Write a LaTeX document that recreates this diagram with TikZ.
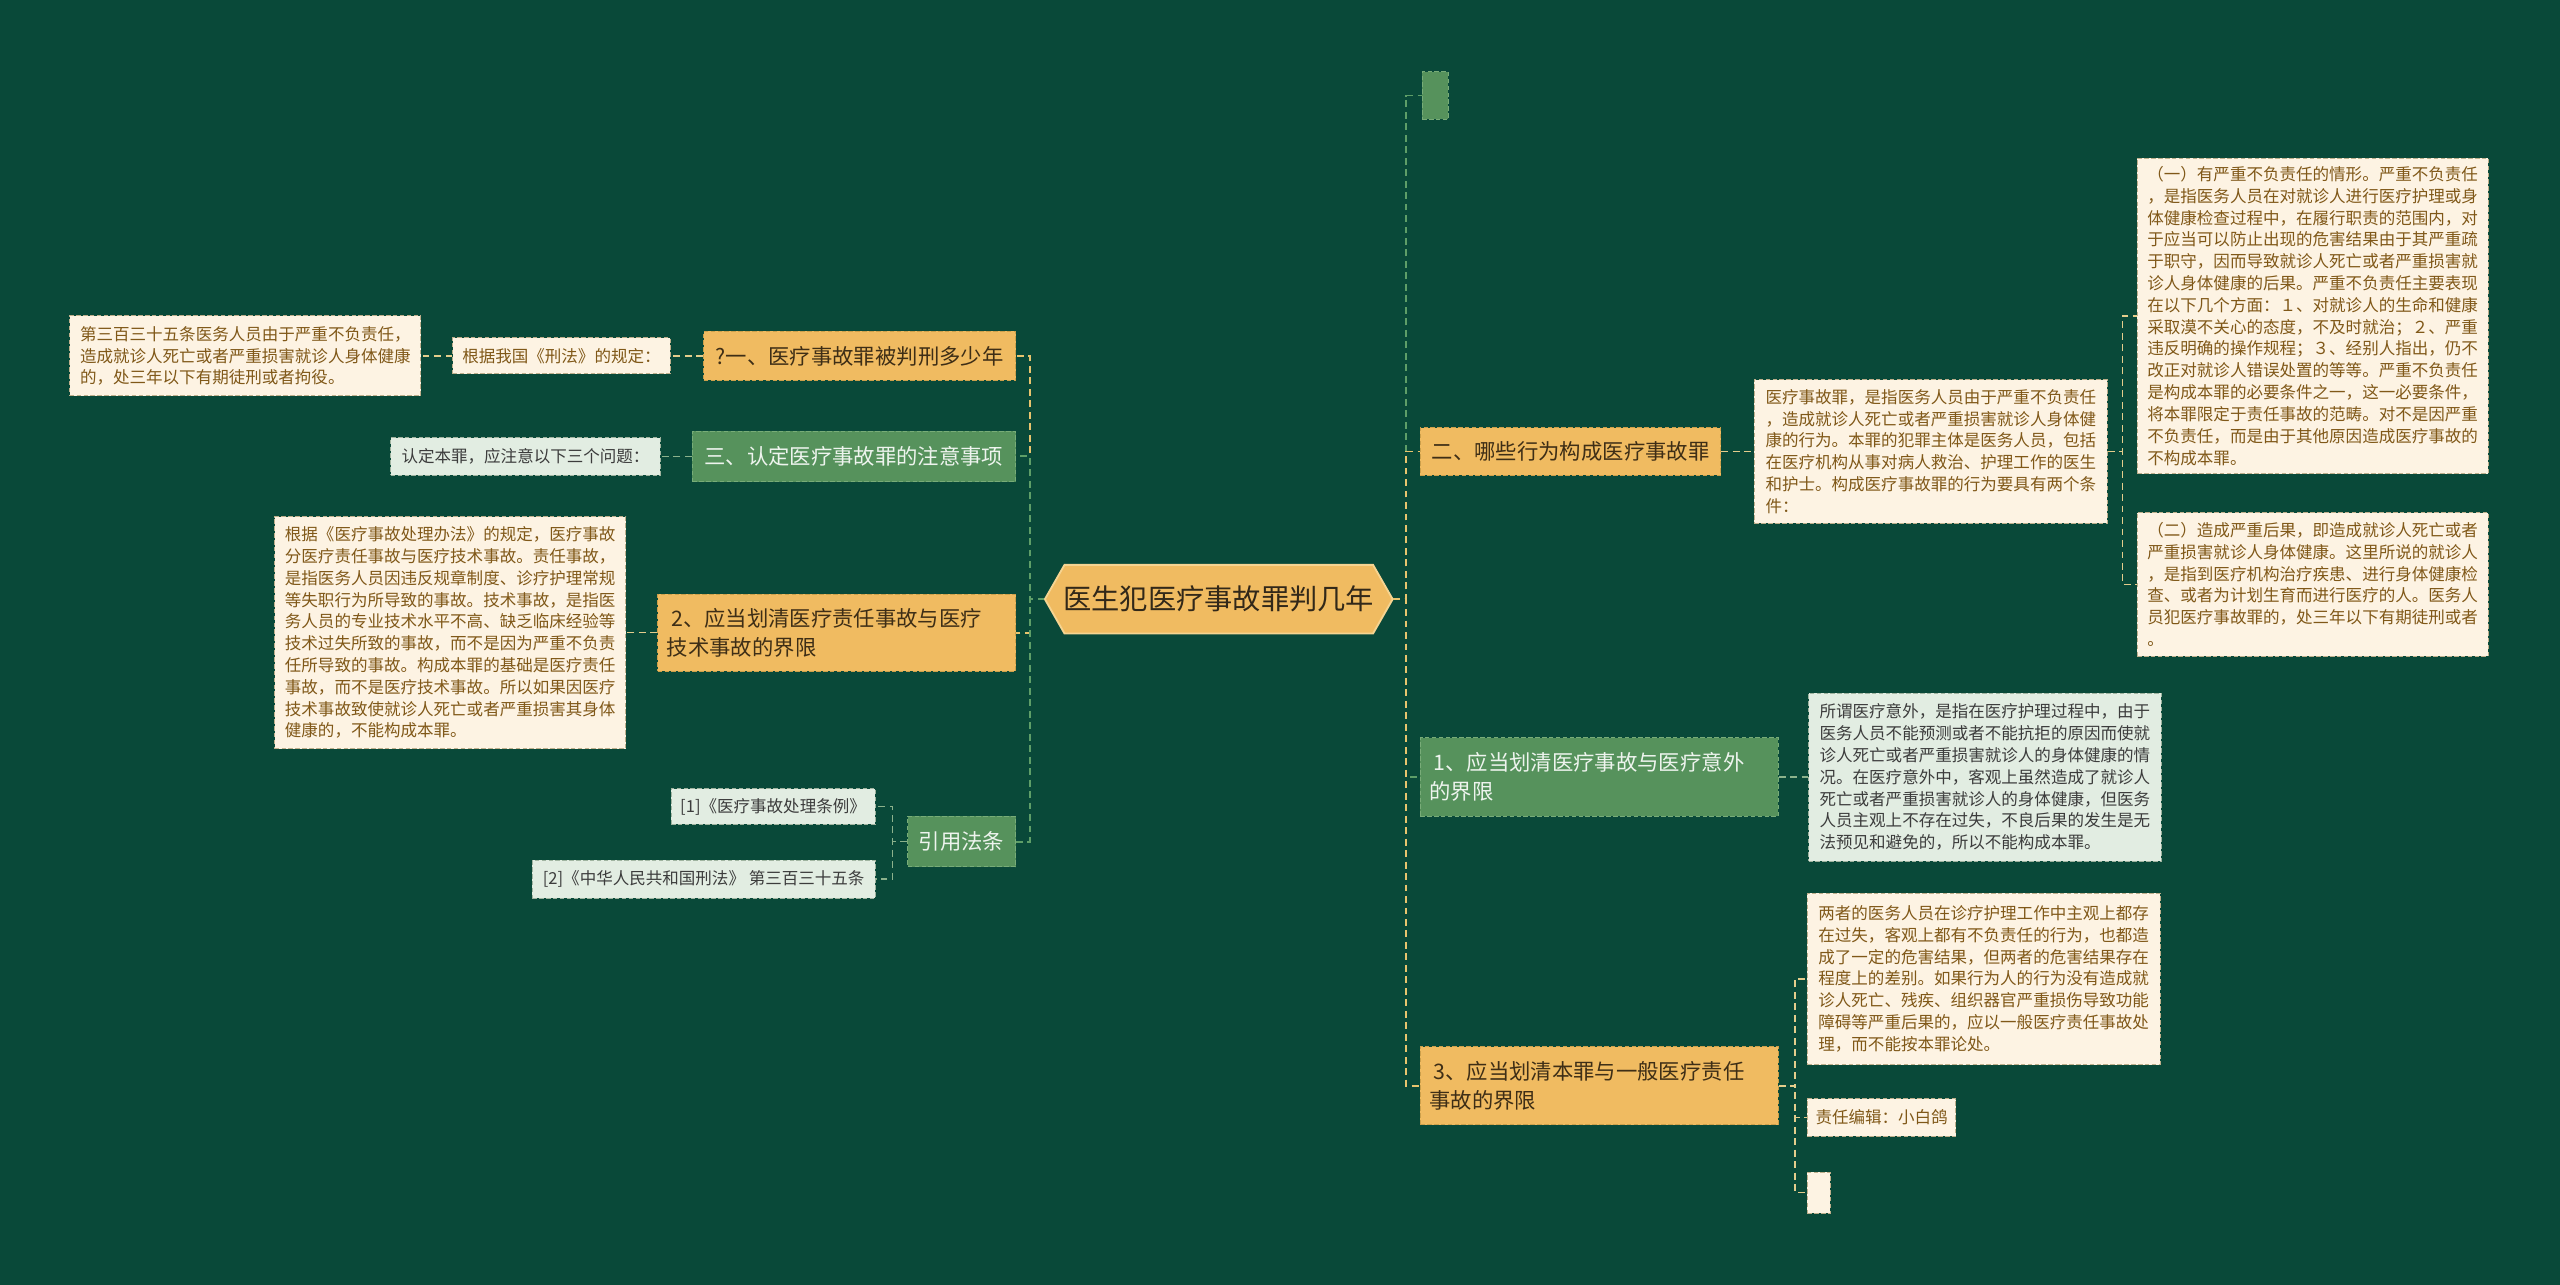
\documentclass[tikz,border=0pt]{standalone}
\usepackage{fontspec}
\setmainfont{Noto Sans CJK SC}
\usepackage{xcolor}
\usepackage{tikz}
\usetikzlibrary{positioning}

\definecolor{bgc}{RGB}{9,73,57}
\definecolor{ofill}{RGB}{240,187,97}
\definecolor{oedge}{RGB}{205,160,75}
\definecolor{otext}{RGB}{62,46,22}
\definecolor{medge}{RGB}{246,212,145}
\definecolor{mtext}{RGB}{50,40,25}
\definecolor{gfill}{RGB}{86,146,92}
\definecolor{gedge}{RGB}{120,172,120}
\definecolor{gtext}{RGB}{238,244,238}
\definecolor{cfill}{RGB}{253,243,227}
\definecolor{cedge}{RGB}{190,175,140}
\definecolor{ctext}{RGB}{128,88,24}
\definecolor{lgfill}{RGB}{226,237,226}
\definecolor{lgedge}{RGB}{160,180,160}
\definecolor{lgtext}{RGB}{60,60,60}
\definecolor{oline}{RGB}{232,196,110}
\definecolor{gline}{RGB}{94,158,104}
\definecolor{cline}{RGB}{228,205,140}
\definecolor{lgline}{RGB}{140,178,140}

\begin{document}
\begin{tikzpicture}[x=0.025cm, y=-0.025cm,
  obox/.style={draw=oedge, dash pattern=on 2pt off 1pt, fill=ofill, text=otext, font=\fontsize{9.3}{12.5}\selectfont, align=left},
  gbox/.style={obox, draw=gedge, fill=gfill, text=gtext},
  wide/.style={text width=5.2cm, inner xsep=4pt},
  leaf/.style={draw=cedge, dash pattern=on 2pt off 1pt, fill=cfill, text=ctext, font=\fontsize{7.2}{9.5}\selectfont, align=left, inner sep=2pt},
  gleaf/.style={leaf, draw=lgedge, fill=lgfill, text=lgtext},
  olink/.style={draw=oline, line width=0.8pt, dash pattern=on 3pt off 2pt},
  glink/.style={olink, draw=gline},
  clink/.style={olink, draw=cline, line width=0.7pt},
  lglink/.style={olink, draw=lgline, line width=0.7pt}]
\useasboundingbox (0,0) rectangle (1568,787);
\fill[bgc] (0,0) rectangle (1568,787);

% central topic
\filldraw[fill=ofill, draw=medge, line width=0.8pt] (640,367) -- (652,346) -- (841,346) -- (853,367) -- (841,388) -- (652,388) -- cycle;
\node[font=\fontsize{12.3}{14}\selectfont, text=mtext, minimum width=5.325cm, minimum height=1.05cm] (main) at (746.5,367) {医生犯医疗事故罪判几年};

% left side
\node[obox, minimum width=4.775cm, minimum height=0.75cm] (l1) at (526.5,218) {?一、医疗事故罪被判刑多少年};
\node[gbox, minimum width=4.95cm, minimum height=0.775cm] (l2) at (523,279.5) {三、认定医疗事故罪的注意事项};
\node[obox, wide, minimum height=1.175cm] (l3) at (512.5,387.5) {\hspace{0.2em}2、应当划清医疗责任事故与医疗\\技术事故的界限};
\node[gbox, minimum width=1.65cm, minimum height=0.775cm] (l4) at (589,515.5) {引用法条};

\node[leaf, left=0.5cm of l1, minimum width=3.325cm, minimum height=0.55cm] (l1a) {根据我国《刑法》的规定：};
\node[leaf, left=0.475cm of l1a, minimum width=5.375cm, minimum height=1.225cm] (l1b) {第三百三十五条医务人员由于严重不负责任，\\
造成就诊人死亡或者严重损害就诊人身体健康\\
的，处三年以下有期徒刑或者拘役。};
\node[gleaf, left=0.475cm of l2, minimum width=4.125cm, minimum height=0.575cm] (l2a) {认定本罪，应注意以下三个问题：};
\node[leaf, left=0.475cm of l3, minimum width=5.375cm, minimum height=3.55cm] (l3a) {根据《医疗事故处理办法》的规定，医疗事故\\
分医疗责任事故与医疗技术事故。责任事故，\\
是指医务人员因违反规章制度、诊疗护理常规\\
等失职行为所导致的事故。技术事故，是指医\\
务人员的专业技术水平不高、缺乏临床经验等\\
技术过失所致的事故，而不是因为严重不负责\\
任所导致的事故。构成本罪的基础是医疗责任\\
事故，而不是医疗技术事故。所以如果因医疗\\
技术事故致使就诊人死亡或者严重损害其身体\\
健康的，不能构成本罪。};
\node[gleaf, minimum width=3.125cm, minimum height=0.55cm] (l4a) at (473.5,494) {[1]《医疗事故处理条例》};
\node[gleaf, minimum width=5.25cm, minimum height=0.575cm] (l4b) at (431,538.5) {[2]《中华人民共和国刑法》 第三百三十五条};

% right side
\node[gbox, minimum width=0.4cm, minimum height=0.725cm, inner sep=0pt] (r0) at (879,58.5) {};
\node[obox, minimum width=4.6cm, minimum height=0.725cm] (r1) at (962,276.5) {二、哪些行为构成医疗事故罪};
\node[leaf, right=0.5cm of r1, minimum width=5.4cm, minimum height=2.2cm] (r1a) {医疗事故罪，是指医务人员由于严重不负责任\\
，造成就诊人死亡或者严重损害就诊人身体健\\
康的行为。本罪的犯罪主体是医务人员，包括\\
在医疗机构从事对病人救治、护理工作的医生\\
和护士。构成医疗事故罪的行为要具有两个条\\
件：};
\node[leaf, minimum width=5.375cm, minimum height=4.825cm] (r1b) at (1416.5,193.5) {（一）有严重不负责任的情形。严重不负责任\\
，是指医务人员在对就诊人进行医疗护理或身\\
体健康检查过程中，在履行职责的范围内，对\\
于应当可以防止出现的危害结果由于其严重疏\\
于职守，因而导致就诊人死亡或者严重损害就\\
诊人身体健康的后果。严重不负责任主要表现\\
在以下几个方面：１、对就诊人的生命和健康\\
采取漠不关心的态度，不及时就治；２、严重\\
违反明确的操作规程；３、经别人指出，仍不\\
改正对就诊人错误处置的等等。严重不负责任\\
是构成本罪的必要条件之一，这一必要条件，\\
将本罪限定于责任事故的范畴。对不是因严重\\
不负责任，而是由于其他原因造成医疗事故的\\
不构成本罪。};
\node[leaf, minimum width=5.375cm, minimum height=2.2cm] (r1c) at (1416.5,358) {（二）造成严重后果，即造成就诊人死亡或者\\
严重损害就诊人身体健康。这里所说的就诊人\\
，是指到医疗机构治疗疾患、进行身体健康检\\
查、或者为计划生育而进行医疗的人。医务人\\
员犯医疗事故罪的，处三年以下有期徒刑或者\\
。};
\node[gbox, wide, minimum height=1.2cm] (r2) at (979.5,476) {\hspace{0.2em}1、应当划清医疗事故与医疗意外\\的界限};
\node[gleaf, right=0.45cm of r2, minimum width=5.4cm, minimum height=2.575cm] (r2a) {所谓医疗意外，是指在医疗护理过程中，由于\\
医务人员不能预测或者不能抗拒的原因而使就\\
诊人死亡或者严重损害就诊人的身体健康的情\\
况。在医疗意外中，客观上虽然造成了就诊人\\
死亡或者严重损害就诊人的身体健康，但医务\\
人员主观上不存在过失，不良后果的发生是无\\
法预见和避免的，所以不能构成本罪。};
\node[obox, wide, minimum height=1.2cm] (r3) at (979.5,665) {\hspace{0.2em}3、应当划清本罪与一般医疗责任\\事故的界限};
\node[leaf, minimum width=5.4cm, minimum height=2.625cm] (r3a) at (1215,599.5) {两者的医务人员在诊疗护理工作中主观上都存\\
在过失，客观上都有不负责任的行为，也都造\\
成了一定的危害结果，但两者的危害结果存在\\
程度上的差别。如果行为人的行为没有造成就\\
诊人死亡、残疾、组织器官严重损伤导致功能\\
障碍等严重后果的，应以一般医疗责任事故处\\
理，而不能按本罪论处。};
\node[leaf, minimum width=2.275cm, minimum height=0.575cm] (r3b) at (1152.5,684.5) {责任编辑：小白鸽};
\node[leaf, minimum width=0.35cm, minimum height=0.625cm, inner sep=0pt] (r3c) at (1114,730.5) {};

% links from the centre
\draw[olink] (main.west) -- ++(-9,0) |- (l1.east);
\draw[glink] (main.west) -- ++(-9,0) |- (l2.east);
\draw[olink] (main.west) -- ++(-9,0) |- (l3.east);
\draw[glink] (main.west) -- ++(-9,0) |- (l4.east);
\draw[glink] (main.east) -- ++(8,0) |- (r0.west);
\draw[olink] (main.east) -- ++(8,0) |- (r1.west);
\draw[glink] (main.east) -- ++(8,0) |- (r2.west);
\draw[olink] (main.east) -- ++(8,0) |- (r3.west);

% links to the leaves
\draw[clink] (l1.west) -- (l1a.east);
\draw[clink] (l1a.west) -- (l1b.east);
\draw[lglink] (l2.west) -- (l2a.east);
\draw[clink] (l3.west) -- (l3a.east);
\draw[lglink] (l4.west) -- ++(-9,0) |- (l4a.east);
\draw[lglink] (l4.west) -- ++(-9,0) |- (l4b.east);
\draw[clink] (r1.east) -- (r1a.west);
\draw[clink] (r1a.east) -- ++(9,0) |- (r1b.west);
\draw[clink] (r1a.east) -- ++(9,0) |- (r1c.west);
\draw[lglink] (r2.east) -- (r2a.west);
\draw[clink] (r3.east) -- ++(10,0) |- (r3a.west);
\draw[clink] (r3.east) -- ++(10,0) |- (r3b.west);
\draw[clink] (r3.east) -- ++(10,0) |- (r3c.west);
\end{tikzpicture}
\end{document}
